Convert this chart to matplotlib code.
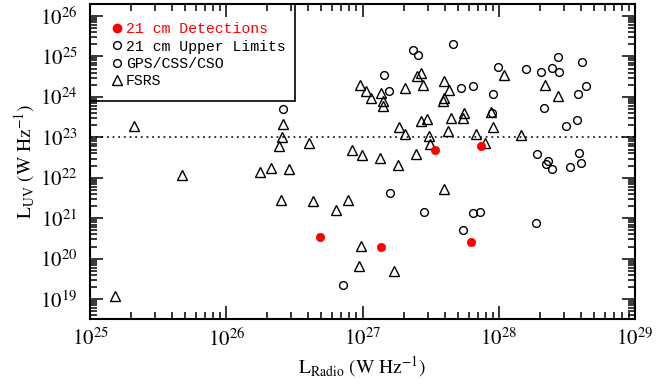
import matplotlib
matplotlib.use("Agg")
import matplotlib.pyplot as plt
import numpy as np
from matplotlib.lines import Line2D
from matplotlib.patches import Rectangle
from matplotlib.ticker import LogLocator, FixedLocator, NullFormatter

# log10 luminosities (W Hz^-1)
det_lradio = [26.687, 27.139, 27.530, 27.869, 27.793]
det_luv = [20.531, 20.284, 22.684, 22.790, 20.405]

circ_lradio = [26.418, 26.858, 27.201, 27.450, 27.810, 27.863, 27.740, 28.272,
               27.370, 27.409, 27.661, 27.159, 27.192, 27.722, 27.812, 27.959,
               27.991, 28.202, 28.311, 28.393, 28.432, 28.442, 28.612, 28.643,
               28.582, 28.332, 27.951, 28.492, 28.571, 28.282, 28.362, 28.344,
               28.393, 28.522, 28.590, 28.602]
circ_luv = [23.701, 19.356, 21.622, 21.160, 21.133, 21.153, 20.721, 20.894,
            25.165, 25.030, 25.301, 24.536, 24.158, 24.220, 24.277, 24.072,
            24.728, 24.696, 24.617, 24.709, 24.985, 24.622, 24.869, 24.259,
            24.079, 23.714, 23.602, 23.281, 23.430, 22.598, 22.405, 22.331,
            22.227, 22.269, 22.605, 22.375]

fsrs_lradio = [25.187, 25.325, 25.675, 26.247, 26.328, 26.460, 26.418, 26.409,
               26.389, 26.609, 26.401, 26.634, 26.809, 26.891, 26.920, 26.996,
               27.130, 27.261, 27.392, 27.494, 27.898, 27.599, 26.986, 26.977,
               27.230, 26.981, 27.025, 27.059, 27.135, 27.150, 27.147, 27.311,
               27.397, 27.431, 27.441, 27.599, 27.632, 27.599, 27.592, 28.037,
               27.428, 27.471, 27.649, 27.746, 27.740, 27.942, 27.959, 27.269,
               27.311, 27.630, 27.489, 27.830, 28.343, 28.434, 28.160]
fsrs_luv = [19.079, 23.289, 22.079, 22.146, 22.244, 22.215, 23.333, 23.017,
            22.783, 22.869, 21.462, 21.437, 21.215, 21.462, 22.696, 22.553,
            22.491, 22.309, 22.598, 22.844, 22.869, 21.733, 20.309, 19.815,
            19.704, 24.294, 24.153, 23.980, 24.104, 23.899, 23.765, 24.220,
            24.523, 24.590, 24.289, 24.405, 24.183, 23.968, 23.889, 24.541,
            23.393, 23.454, 23.479, 23.602, 23.479, 23.622, 23.257, 23.257,
            23.084, 23.148, 23.025, 23.084, 24.284, 24.030, 23.054]

legend_labels = ["21 cm Detections", "21 cm Upper Limits", "GPS/CSS/CSO", "FSRS"]
uv_cut = 1e23

plt.rcParams["mathtext.fontset"] = "stix"
plt.rcParams["font.family"] = "STIXGeneral"

fig = plt.figure(figsize=(6.57, 3.86), dpi=100)
ax = fig.add_axes([90 / 657, 1 - 319 / 386, 545 / 657, 314.7 / 386])

ax.plot(10 ** np.array(fsrs_lradio), 10 ** np.array(fsrs_luv), ls="none", marker="^",
        ms=7, mfc="none", mec="black", mew=1.0)
ax.plot(10 ** np.array(circ_lradio), 10 ** np.array(circ_luv), ls="none", marker="o",
        ms=5.6, mfc="none", mec="black", mew=1.0)
ax.plot(10 ** np.array(det_lradio), 10 ** np.array(det_luv), ls="none", marker="o",
        ms=6, mfc="red", mec="red", mew=0.5)

ax.axhline(uv_cut, color="black", ls=(0, (1.2, 2.5)), lw=1.1)

ax.set_xscale("log")
ax.set_yscale("log")
ax.set_xlim(1e25, 1e29)
ax.set_ylim(10 ** 18.51, 10 ** 26.29)

ax.xaxis.set_major_locator(FixedLocator([1e25, 1e26, 1e27, 1e28, 1e29]))
ax.yaxis.set_major_locator(FixedLocator([10.0 ** k for k in range(19, 27)]))
ax.xaxis.set_minor_locator(LogLocator(base=10, subs=np.arange(2, 10), numticks=20))
ax.yaxis.set_minor_locator(LogLocator(base=10, subs=np.arange(2, 10), numticks=20))
ax.xaxis.set_minor_formatter(NullFormatter())
ax.yaxis.set_minor_formatter(NullFormatter())
ax.set_xticklabels([r"$10^{%d}$" % k for k in range(25, 30)])
ax.set_yticklabels([r"$10^{%d}$" % k for k in range(19, 27)])

ax.tick_params(which="both", direction="in", top=True, right=True, width=1.1)
ax.tick_params(which="major", length=9.5, labelsize=15)
ax.tick_params(which="minor", length=5)
ax.tick_params(axis="x", which="major", pad=7)
ax.tick_params(axis="y", which="major", pad=9)
for sp in ax.spines.values():
    sp.set_linewidth(1.5)

ax.set_xlabel(r"$\mathrm{L_{Radio}}$ (W Hz$^{-1}$)", fontsize=14, labelpad=2)
ax.set_ylabel(r"$\mathrm{L_{UV}}$ (W Hz$^{-1}$)", fontsize=14, labelpad=2)

# legend box sitting in the upper left corner of the axes
ax.add_patch(Rectangle((0, 0.693), 0.376, 0.307, transform=ax.transAxes,
                       fill=False, edgecolor="black", lw=1.2, zorder=5))
handles = [
    Line2D([], [], ls="none", marker="o", ms=6, mfc="red", mec="red"),
    Line2D([], [], ls="none", marker="o", ms=5.6, mfc="none", mec="black", mew=1.0),
    Line2D([], [], ls="none", marker="o", ms=5.6, mfc="none", mec="black", mew=1.0),
    Line2D([], [], ls="none", marker="^", ms=7, mfc="none", mec="black", mew=1.0),
]
leg = ax.legend(handles, legend_labels, loc="upper left", bbox_to_anchor=(0.0385, 0.943),
                frameon=False, borderpad=0, borderaxespad=0, handlelength=0.8,
                handletextpad=0.2, labelspacing=0.22,
                prop={"family": "Liberation Mono", "size": 10.7})
leg.get_texts()[0].set_color("red")

fig.savefig("out.png", dpi=100)
